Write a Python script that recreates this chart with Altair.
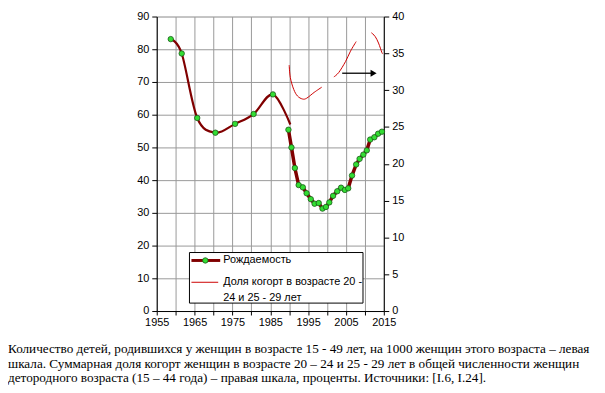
import altair as alt
import pandas as pd

# ---- data ----
# Fertility (births per 1000 women 15-49), smoothed part
s1_years = [1958.7, 1961.6, 1965.7, 1970.5, 1975.7, 1980.6, 1985.7]
s1_vals = [83.1, 78.7, 59.0, 54.5, 57.2, 60.2, 66.2]
s1_end_year = [1990.3]
s1_end_val = [57.0]

# Fertility, yearly part
s2_years = [1989.8, 1990.6, 1991.5, 1992.5, 1993.6, 1994.6, 1995.7, 1996.7, 1997.8,
            1998.8, 1999.7, 2000.6, 2001.6, 2002.7, 2003.7, 2004.7, 2005.6, 2006.6,
            2007.7, 2008.6, 2009.6, 2010.5, 2011.4, 2012.5, 2013.5, 2014.5]
s2_vals = [55.4, 50.0, 43.7, 38.5, 37.8, 36.0, 34.2, 32.8, 33.0, 31.3, 31.8, 33.2,
           35.2, 36.6, 37.7, 37.0, 37.5, 41.4, 44.8, 46.5, 47.8, 49.1, 52.4, 53.1,
           54.2, 54.8]

# Share of cohorts 20-24 and 25-29 (right scale, %), three drawn pieces
r_seg = ["A"] * 8 + ["B"] * 5 + ["C"] * 5
r_years = [1990.0, 1990.3, 1991.2, 1992.2, 1993.5, 1994.6, 1996.6, 1998.6,
           2001.8, 2003.1, 2004.9, 2006.2, 2007.7,
           2011.7, 2012.7, 2013.6, 2014.5, 2014.7]
r_vals = [33.4, 31.7, 30.1, 29.2, 28.8, 28.9, 29.7, 30.4,
          31.8, 32.4, 33.9, 35.3, 36.6,
          37.8, 37.3, 36.4, 35.1, 35.0]

# arrow pointing to the right scale
arrow_start = [2004.0]
arrow_end = [2012.3]
arrow_val = [32.3]

x_ticks = [1955, 1960, 1965, 1970, 1975, 1980, 1985, 1990, 1995, 2000, 2005, 2010, 2015]
yl_ticks = [0, 10, 20, 30, 40, 50, 60, 70, 80, 90]
yr_ticks = [0, 5, 10, 15, 20, 25, 30, 35, 40]

legend_1 = "Рождаемость"
legend_2a = "Доля когорт в возрасте 20 -"
legend_2b = "24 и 25 - 29 лет"
caption = [
    "Количество детей, родившихся у женщин в возрасте 15 - 49 лет, на 1000 женщин этого возраста – левая",
    "шкала. Суммарная доля когорт женщин в возрасте 20 – 24 и 25 - 29 лет в общей численности женщин",
    "детородного возраста (15 – 44 года) – правая шкала, проценты. Источники: [I.6, I.24].",
]

# ---- tables ----
s1_line = pd.DataFrame({"year": s1_years + s1_end_year, "v": s1_vals + s1_end_val})
s1_pts = pd.DataFrame({"year": s1_years, "v": s1_vals})
s2 = pd.DataFrame({"year": s2_years, "v": s2_vals})
rdf = pd.DataFrame({"seg": r_seg, "year": r_years, "v": r_vals})
adf = pd.DataFrame({"x1": arrow_start, "x2": arrow_end, "v": arrow_val})
one = pd.DataFrame({"a": [0]})

FONT = "Liberation Sans"
DARK = "#800000"
GREEN = "#33dd33"
GREEN_EDGE = "#1a5a1a"
RED = "#cc0000"


def xenc(field="year"):
    return alt.X(field, type="quantitative",
                 scale=alt.Scale(domain=[1955, 2015], nice=False, zero=False),
                 axis=alt.Axis(values=x_ticks, format="d", title=None,
                               labelExpr="datum.value % 10 == 5 ? datum.label : ''",
                               grid=True, gridColor="#999999", gridWidth=1,
                               domainColor="black", tickColor="black", tickSize=4,
                               labelFont=FONT, labelFontSize=11, labelColor="black",
                               labelPadding=2, labelFlush=False, labelOverlap=False))


def yl(field="v"):
    return alt.Y(field, type="quantitative",
                 scale=alt.Scale(domain=[0, 90], nice=False, zero=True),
                 axis=alt.Axis(values=yl_ticks, title=None, grid=True, gridColor="#999999",
                               gridWidth=1, domainColor="black", tickColor="black",
                               tickSize=5, labelFont=FONT, labelFontSize=11,
                               labelColor="black", labelPadding=3, orient="left"))


def yr(field="v"):
    return alt.Y(field, type="quantitative",
                 scale=alt.Scale(domain=[0, 40], nice=False, zero=True),
                 axis=alt.Axis(values=yr_ticks, title=None, grid=False, orient="right",
                               domainColor="black", tickColor="black", tickSize=5,
                               labelFont=FONT, labelFontSize=11, labelColor="black",
                               labelPadding=3))


line1 = alt.Chart(s1_line).mark_line(color=DARK, strokeWidth=2.2, interpolate="cardinal").encode(
    x=xenc(), y=yl())
pts1 = alt.Chart(s1_pts).mark_circle(size=30, color=GREEN, stroke=GREEN_EDGE, strokeWidth=0.8,
                                     opacity=1).encode(x=xenc(), y=yl())
line2 = alt.Chart(s2).mark_line(color=DARK, strokeWidth=3.5).encode(x=xenc(), y=yl())
pts2 = alt.Chart(s2).mark_circle(size=30, color=GREEN, stroke=GREEN_EDGE, strokeWidth=0.8,
                                 opacity=1).encode(x=xenc(), y=yl())

# legend box (layout decoration)
leg_box = alt.Chart(one).mark_rect(fill="white", stroke="black", strokeWidth=1).encode(
    x=alt.value(33), x2=alt.value(208), y=alt.value(238), y2=alt.value(289))
leg_l1 = alt.Chart(one).mark_rule(color=DARK, strokeWidth=3).encode(
    x=alt.value(35), x2=alt.value(64), y=alt.value(246))
leg_p1 = alt.Chart(one).mark_circle(size=30, color=GREEN, stroke=GREEN_EDGE, strokeWidth=0.8,
                                    opacity=1).encode(x=alt.value(49), y=alt.value(246))
leg_t1 = alt.Chart(one).mark_text(text=legend_1, font=FONT, fontSize=11, align="left",
                                  baseline="middle", color="black").encode(
    x=alt.value(67), y=alt.value(246))
leg_l2 = alt.Chart(one).mark_rule(color=RED, strokeWidth=1).encode(
    x=alt.value(35), x2=alt.value(62), y=alt.value(268))
leg_t2 = alt.Chart(one).mark_text(text=legend_2a, font=FONT, fontSize=11, align="left",
                                  baseline="middle", color="black").encode(
    x=alt.value(67), y=alt.value(268))
leg_t3 = alt.Chart(one).mark_text(text=legend_2b, font=FONT, fontSize=11, align="left",
                                  baseline="middle", color="black").encode(
    x=alt.value(67), y=alt.value(284))

cap_layers = []
for i, line in enumerate(caption):
    cap_layers.append(alt.Chart(one).mark_text(text=line, font="Liberation Serif", fontSize=13.3,
                                               align="left", baseline="middle",
                                               color="black").encode(
        x=alt.value(-150), y=alt.value(335.5 + 14.6 * i)))

left = alt.layer(line1, pts1, line2, pts2, leg_box, leg_l1, leg_p1, leg_t1, leg_l2,
                 leg_t2, leg_t3, *cap_layers)

rlines = alt.Chart(rdf).mark_line(color=RED, strokeWidth=1, interpolate="cardinal").encode(
    x=xenc(), y=yr(), detail="seg:N")
arrow_rule = alt.Chart(adf).mark_rule(color="black", strokeWidth=1.3).encode(
    x=xenc("x1"), x2="x2", y=yr())
arrow_head = alt.Chart(adf).mark_point(shape="triangle-right", filled=True, size=50,
                                       color="black", opacity=1).encode(
    x=xenc("x2"), y=yr())
right = alt.layer(rlines, arrow_rule, arrow_head)

chart = alt.layer(left, right).resolve_scale(y="independent").properties(
    width=229, height=297,
    autosize=alt.AutoSizeParams(type="none"),
    padding={"left": 150, "top": 7, "right": 215, "bottom": 73},
).configure_view(stroke=None).configure(background="white")

chart.save("out.html", embed_options={"renderer": "svg", "actions": False})
